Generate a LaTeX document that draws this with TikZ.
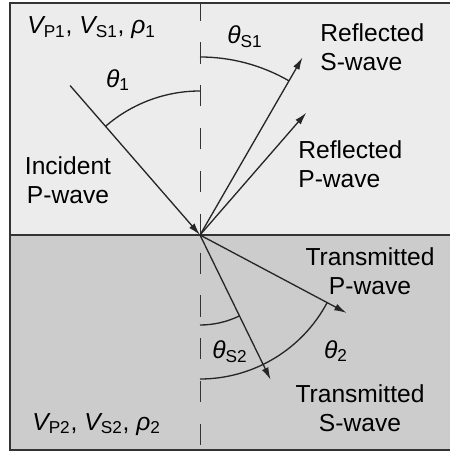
\documentclass[tikz,border=0pt]{standalone}
\usepackage{fontspec}
\setmainfont{Liberation Sans}
\usetikzlibrary{arrows.meta}

\begin{document}
\begin{tikzpicture}[x=0.02cm,y=0.02cm,
    wave/.style={line width=0.75pt,black!85,-{Latex[length=7pt,width=4pt]}},
    angarc/.style={line width=0.75pt,black!85},
    normal/.style={black!80,dash pattern=on 12pt off 12.4pt},
    lbl/.style={font=\fontsize{14}{16.5}\selectfont,inner sep=0pt,align=center}]
  \useasboundingbox (-200,-217) rectangle (250,235);
  \fill[gray!15] (-190,0) rectangle (250,232);
  \fill[gray!40] (-190,-215) rectangle (250,0);
  \draw[line width=1.1pt,black!80] (250,232) -- (-190,232) -- (-190,-215) -- (250,-215);
  \draw[line width=1.1pt,black!80] (-190,0) -- (250,0);
  \draw[normal] (0,0) -- (0,232);
  \draw[normal,dash phase=14.4pt] (0,0) -- (0,-215);

  \coordinate (O) at (0,0);
  \coordinate (inc) at (131:198);
  \coordinate (rs) at (60:205);
  \coordinate (rp) at (49:162);
  \coordinate (tp) at (-28:166);
  \coordinate (ts) at (-64:161);

  \draw[angarc] (O) ++(90:144) arc[start angle=90,end angle=131,radius=144];
  \draw[angarc] (O) ++(90:178) arc[start angle=90,end angle=60,radius=178];
  \draw[angarc] (O) ++(-90:90) arc[start angle=-90,end angle=-64,radius=90];
  \draw[angarc] (O) ++(-90:144) arc[start angle=-90,end angle=-28,radius=144];

  \draw[wave] (inc) -- (O);
  \draw[wave] (O) -- (rs);
  \draw[wave] (O) -- (rp);
  \draw[wave] (O) -- (tp);
  \draw[wave] (O) -- (ts);

  \node[lbl,anchor=base west] (upper) at (-173,201) {{\itshape V}\textsubscript{P1}, {\itshape V}\textsubscript{S1}, {\itshape ρ}\textsubscript{1}};
  \node[lbl,anchor=base west] (lower) at (-168,-195) {{\itshape V}\textsubscript{P2}, {\itshape V}\textsubscript{S2}, {\itshape ρ}\textsubscript{2}};
  \node[lbl] (th1) at (-82,155) {{\itshape θ}\textsubscript{1}};
  \node[lbl] (thS1) at (45,198) {{\itshape θ}\textsubscript{S1}};
  \node[lbl] (thS2) at (30,-117) {{\itshape θ}\textsubscript{S2}};
  \node[lbl] (th2) at (136,-116) {{\itshape θ}\textsubscript{2}};
  \node[lbl] (incP) at (-132,55) {Incident\\P-wave};
  \node[lbl,anchor=west,align=left] (refS) at (120,188) {Reflected\\S-wave};
  \node[lbl,anchor=west,align=left] (refP) at (98,71) {Reflected\\P-wave};
  \node[lbl] (traP) at (170,-36) {Transmitted\\P-wave};
  \node[lbl] (traS) at (160,-173) {Transmitted\\S-wave};
\end{tikzpicture}
\end{document}
